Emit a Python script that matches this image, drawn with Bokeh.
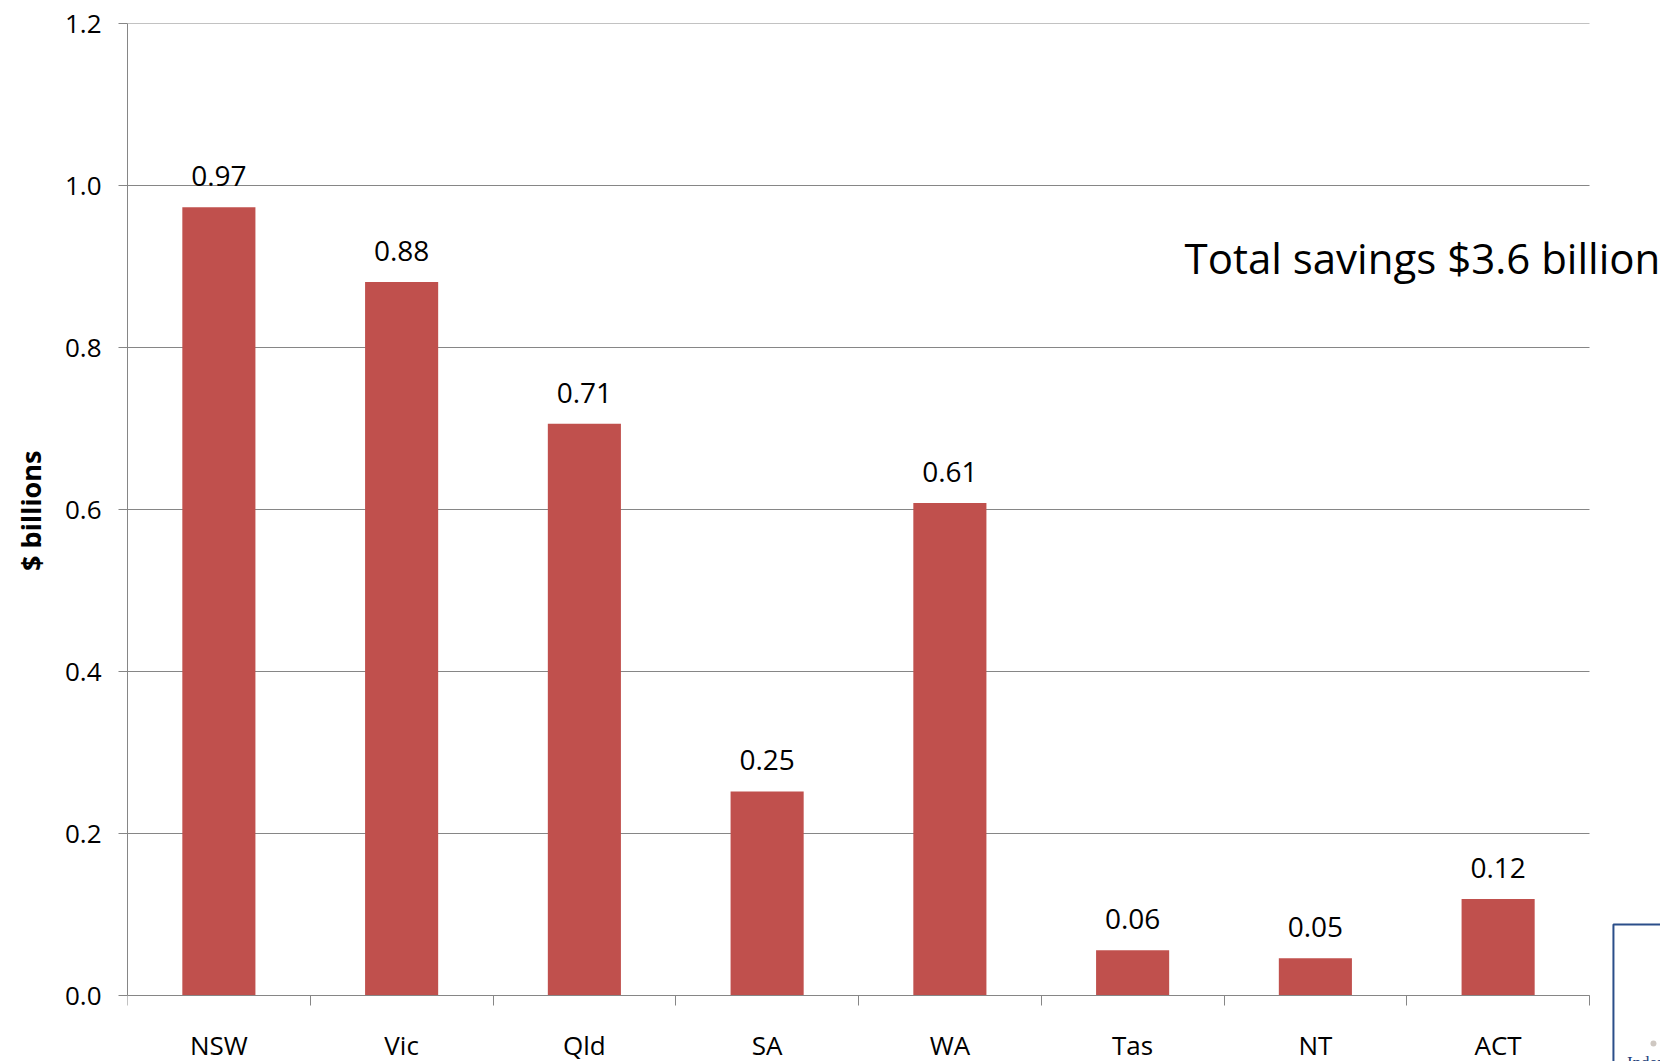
from bokeh.plotting import figure
from bokeh.models import ColumnDataSource, LabelSet, Label, FixedTicker, Range1d, Title
from bokeh.core.properties import value
from bokeh.embed import file_html
from bokeh.resources import INLINE

states = ["NSW", "Vic", "Qld", "SA", "WA", "Tas", "NT", "ACT"]
savings = [0.973, 0.881, 0.706, 0.252, 0.608, 0.056, 0.046, 0.119]
y_ticks = [0.0, 0.2, 0.4, 0.6, 0.8, 1.0, 1.2]
total_note = "Total savings $3.6 billion"
y_title = "$ billions"
logo_text = "Independent"

FONT = "Open Sans"
GRAY = "#868686"
BAR = "#C0504D"

n = len(states)
xs = [i + 0.5 for i in range(n)]
src = ColumnDataSource(dict(x=xs, y=savings, lab=[f"{v:.2f}" for v in savings]))

# layout (pixels): frame left 127, top 23; value 0 at 995; 182.75 px per category; 810 px per unit
W, H = 1660, 1061
LEFT, TOP = 127, 23
PX_CAT = 182.75
PX_UNIT = 810.0
x_end = (W - LEFT) / PX_CAT
y_start = y_ticks[-1] - (H - TOP) / PX_UNIT

p = figure(width=W, height=H, output_backend="svg", toolbar_location=None,
           x_range=Range1d(0, x_end), y_range=Range1d(y_start, y_ticks[-1]),
           min_border_left=LEFT, min_border_right=0, min_border_top=TOP, min_border_bottom=0)
p.outline_line_color = None
p.background_fill_color = "white"
p.border_fill_color = "white"

# gridlines limited to the category span
p.segment(x0=[0] * len(y_ticks), x1=[n] * len(y_ticks), y0=y_ticks, y1=y_ticks,
          line_color=GRAY, line_width=1)
p.xgrid.grid_line_color = None
p.ygrid.grid_line_color = None

p.vbar(x="x", top="y", width=0.4, source=src, fill_color=BAR, line_color=None)

p.add_layout(LabelSet(x="x", y="y", text="lab", source=src, text_align="center",
                      text_baseline="alphabetic", y_offset=21, text_font=value(FONT),
                      text_font_size=value("28px"), text_color="black"))

# y axis
yax = p.yaxis[0]
yax.bounds = (y_ticks[0], y_ticks[-1])
yax.ticker = FixedTicker(ticks=y_ticks)
yax.major_label_overrides = {t: f"{t:.1f}" for t in y_ticks}
yax.major_label_text_font = FONT
yax.major_label_text_font_size = "26px"
yax.major_label_text_color = "black"
yax.major_label_standoff = 17
yax.major_tick_in = 0
yax.major_tick_out = 9
yax.minor_tick_line_color = None
yax.axis_line_color = GRAY
yax.major_tick_line_color = GRAY

# y title as a side title so it can be centred on the value span
p.add_layout(Title(text=y_title, align="right", vertical_align="top", offset=427,
                   text_font=FONT, text_font_size="27px", text_font_style="bold",
                   text_color="black", standoff=22), "left")

# x axis drawn at value 0: labels at category centres, ticks at boundaries
xax = p.xaxis[0]
xax.fixed_location = 0
xax.bounds = (0, n)
xax.ticker = FixedTicker(ticks=xs, minor_ticks=list(range(n + 1)))
xax.major_label_overrides = {x: s for x, s in zip(xs, states)}
xax.major_tick_line_color = None
xax.major_tick_in = 0
xax.major_tick_out = 10
xax.minor_tick_in = 0
xax.minor_tick_out = 10
xax.minor_tick_line_color = GRAY
xax.axis_line_color = GRAY
xax.major_label_text_font = FONT
xax.major_label_text_font_size = "26px"
xax.major_label_text_color = "black"
xax.major_label_standoff = 21

p.add_layout(Label(x=5.784, y=0.911, text=total_note, text_font=FONT,
                   text_font_size="42px", text_color="black",
                   text_align="left", text_baseline="alphabetic"))

# partially visible logo box at bottom right (cut by the page edge)
p.quad(left=[8.131], right=[x_end + 1], top=[0.0877], bottom=[y_start - 1],
       fill_color=None, line_color="#2B4F8A", line_width=2)
p.scatter(x=[8.35], y=[-0.0593], size=6, marker="circle", fill_color="#CFC8C2", line_color=None)
p.add_layout(Label(x=8.205, y=-0.0705, text=logo_text, text_font="Liberation Serif",
                   text_font_size="17px", text_color="#1F3F7A",
                   text_align="left", text_baseline="top"))

open("out.html", "w").write(file_html(p, INLINE))
